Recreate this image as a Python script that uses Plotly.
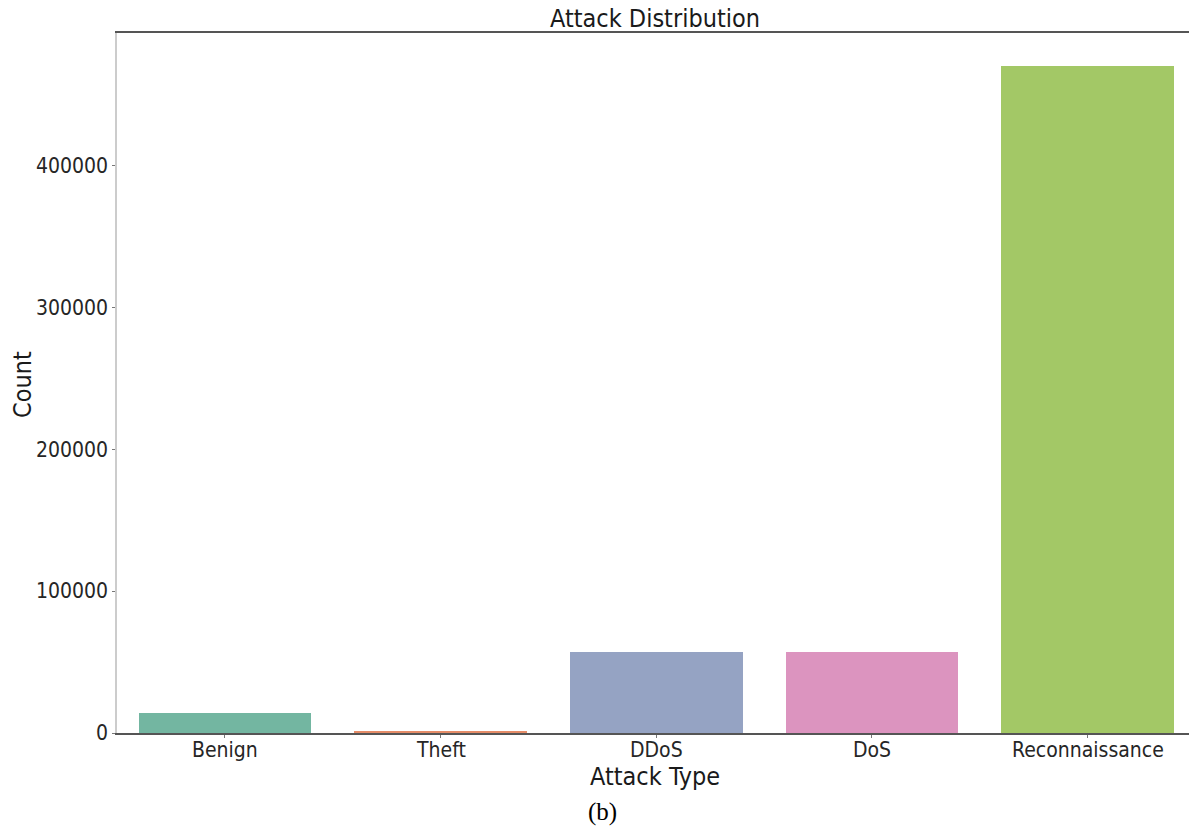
import plotly.graph_objects as go

categories = ["Benign", "Theft", "DDoS", "DoS", "Reconnaissance"]
counts = [13900, 1100, 56800, 56800, 469800]
bar_colors = ["#73b6a1", "#e58c68", "#95a3c3", "#dc94bf", "#a3c866"]
y_ticks = [0, 100000, 200000, 300000, 400000]

FONT = "DejaVu Sans Condensed, DejaVu Sans"
PLOT_TOP, PLOT_BOTTOM, PLOT_LEFT, PLOT_W = 33, 733, 117, 1072


def py(px):
    return (PLOT_BOTTOM - px) / (PLOT_BOTTOM - PLOT_TOP)


def pxx(px):
    return (px - PLOT_LEFT) / PLOT_W


fig = go.Figure()
fig.add_trace(go.Bar(
    x=list(range(len(categories))),
    y=counts,
    width=0.8,
    marker=dict(color=bar_colors, line=dict(width=0)),
    showlegend=False,
))

annotations = [
    dict(text=c, xref="x", yref="paper", x=i, y=py(750),
         xanchor="center", yanchor="middle", showarrow=False,
         font=dict(size=21, family=FONT, color="#262626"))
    for i, c in enumerate(categories)
]
annotations += [
    dict(text="Attack Type", xref="paper", yref="paper",
         x=pxx(655), y=py(776),
         xanchor="center", yanchor="middle", showarrow=False,
         font=dict(size=25, family=FONT, color="#1a1a1a")),
    dict(text="Count", xref="paper", yref="paper",
         x=pxx(22), y=py(385),
         xanchor="center", yanchor="middle", textangle=-90, showarrow=False,
         font=dict(size=25, family=FONT, color="#1a1a1a")),
    dict(text="(b)", xref="paper", yref="paper",
         x=pxx(602), y=py(812),
         xanchor="center", yanchor="middle", showarrow=False,
         font=dict(size=25, family="Liberation Serif, Times New Roman, serif", color="#000000")),
]

fig.update_layout(
    width=1189, height=826,
    margin=dict(l=PLOT_LEFT, r=0, t=PLOT_TOP, b=826 - PLOT_BOTTOM, pad=0),
    paper_bgcolor="white", plot_bgcolor="white",
    font=dict(family=FONT, color="#262626"),
    bargap=0,
    title=dict(text="Attack Distribution", x=655 / 1189, xanchor="center",
               y=1 - 18 / 826, yanchor="middle", xref="container", yref="container",
               font=dict(size=25, family=FONT, color="#1a1a1a")),
    xaxis=dict(
        range=[-0.5, 4.47],
        tickmode="array", tickvals=list(range(len(categories))),
        showticklabels=False,
        showline=True, linecolor="#555555", linewidth=2, mirror=True,
        ticks="outside", ticklen=3, tickcolor="#777777", tickwidth=1,
        showgrid=False, zeroline=False,
    ),
    yaxis=dict(
        range=[0, 493300],
        tickmode="array", tickvals=y_ticks, ticktext=[str(v) for v in y_ticks],
        tickfont=dict(size=21, family=FONT, color="#262626"),
        showline=True, linecolor="#cccccc", linewidth=1.5,
        ticks="outside", ticklen=3, tickcolor="#777777", tickwidth=1,
        showgrid=False, zeroline=False,
    ),
    annotations=annotations,
)

fig.write_html("out.html")
